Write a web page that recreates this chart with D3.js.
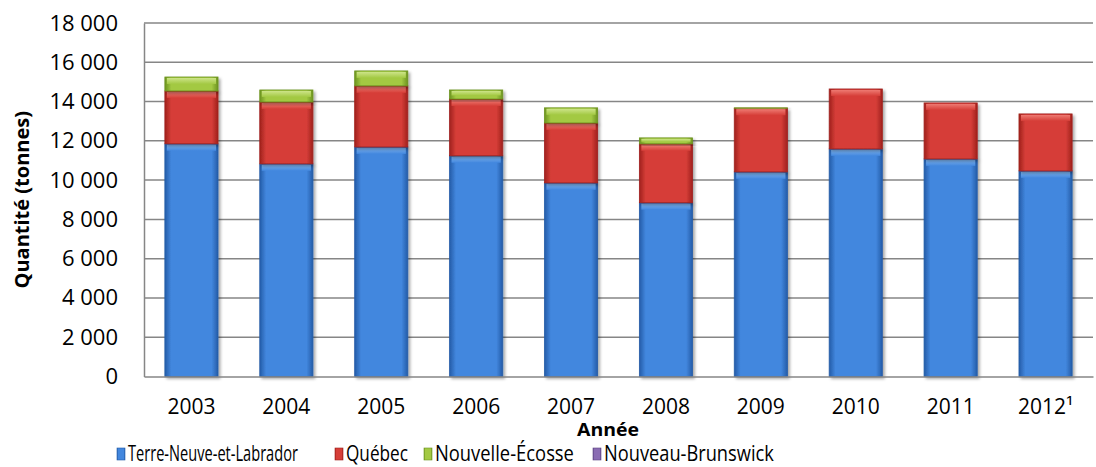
<!DOCTYPE html>
<html>
<head>
<meta charset="utf-8">
<script src="https://cdn.jsdelivr.net/npm/d3@7"></script>
<style>
  body { margin: 0; background: #fff; }
  svg { display: block; font-family: "Open Sans", sans-serif; }
</style>
</head>
<body>
<svg width="1096" height="467"></svg>
<script>
const years = ["2003", "2004", "2005", "2006", "2007", "2008", "2009", "2010", "2011", "2012¹"];
const terreNeuve = [11850, 10830, 11690, 11240, 9860, 8850, 10420, 11590, 11080, 10470];
const quebec = [2690, 3150, 3110, 2890, 3050, 3000, 3240, 3050, 2850, 2900];
const nouvelleEcosse = [710, 610, 760, 460, 770, 300, 20, 0, 0, 0];
const nouveauBrunswick = [0, 0, 0, 0, 0, 0, 0, 0, 0, 0];
const seriesNames = ["Terre-Neuve-et-Labrador", "Québec", "Nouvelle-Écosse", "Nouveau-Brunswick"];
const yTicks = [0, 2000, 4000, 6000, 8000, 10000, 12000, 14000, 16000, 18000];

const colors = [
  { mid: "#4287de", edge: "#245ca8", top: "#7fb6f2" },
  { mid: "#d63e38", edge: "#a0211d", top: "#ee7a72" },
  { mid: "#a3c943", edge: "#6c931f", top: "#cde488" },
  { mid: "#8a6cb3", edge: "#5c4383", top: "#b6a0d4" }
];

const rows = years.map((yr, i) => ({
  year: yr,
  s0: terreNeuve[i], s1: quebec[i], s2: nouvelleEcosse[i], s3: nouveauBrunswick[i]
}));
const stack = d3.stack().keys(["s0", "s1", "s2", "s3"])(rows);

const svg = d3.select("svg");
const mLeft = 144, mRight = 1093, mTop = 23, mBottom = 376.5;

const x = d3.scaleBand().domain(years).range([mLeft, mRight]).paddingInner(0.44).paddingOuter(0.22);
const y = d3.scaleLinear().domain([0, 18000]).range([mBottom, mTop]);

const defs = svg.append("defs");
colors.forEach((c, i) => {
  const g = defs.append("linearGradient").attr("id", "g" + i).attr("x1", 0).attr("x2", 1).attr("y1", 0).attr("y2", 0);
  g.append("stop").attr("offset", "0%").attr("stop-color", c.edge);
  g.append("stop").attr("offset", "12%").attr("stop-color", c.mid);
  g.append("stop").attr("offset", "88%").attr("stop-color", c.mid);
  g.append("stop").attr("offset", "100%").attr("stop-color", c.edge);
  const t = defs.append("linearGradient").attr("id", "t" + i).attr("x1", 0).attr("x2", 0).attr("y1", 0).attr("y2", 1);
  t.append("stop").attr("offset", "0%").attr("stop-color", c.top);
  t.append("stop").attr("offset", "100%").attr("stop-color", c.mid);
});
const shadow = defs.append("filter").attr("id", "sh").attr("x", "-20%").attr("y", "-20%").attr("width", "150%").attr("height", "150%");
shadow.append("feDropShadow").attr("dx", 2).attr("dy", 2).attr("stdDeviation", 1.5).attr("flood-color", "#000").attr("flood-opacity", 0.35);

// gridlines
svg.append("g")
  .selectAll("line")
  .data(yTicks.slice(1))
  .join("line")
  .attr("x1", mLeft).attr("x2", mRight)
  .attr("y1", d => y(d)).attr("y2", d => y(d))
  .attr("stroke", "#868686").attr("stroke-width", 1.5);

// y axis
const yAxis = svg.append("g")
  .attr("transform", `translate(${mLeft},0)`)
  .call(d3.axisLeft(y).tickValues(yTicks).tickSize(0).tickPadding(26)
    .tickFormat(d => d3.format(",")(d).replace(",", " ")));
yAxis.select(".domain").attr("stroke", "#868686").attr("stroke-width", 1.5);
yAxis.selectAll("text").attr("fill", "#000")
  .attr("font-family", "'Open Sans', sans-serif").attr("font-size", 22);

// bars
const layers = svg.append("g").selectAll("g")
  .data(stack)
  .join("g");

layers.each(function (layer, li) {
  const g = d3.select(this);
  const segs = layer.filter(d => d[1] - d[0] > 0);
  g.selectAll("rect.body")
    .data(segs)
    .join("rect")
    .attr("class", "body")
    .attr("x", d => x(d.data.year))
    .attr("y", d => y(d[1]))
    .attr("width", x.bandwidth())
    .attr("height", d => y(d[0]) - y(d[1]))
    .attr("fill", `url(#g${li})`)
    .attr("stroke", colors[li].edge)
    .attr("stroke-width", 0.8)
    .attr("filter", "url(#sh)");
  g.selectAll("rect.cap")
    .data(segs)
    .join("rect")
    .attr("class", "cap")
    .attr("x", d => x(d.data.year) + 2)
    .attr("y", d => y(d[1]) + 1)
    .attr("width", x.bandwidth() - 4)
    .attr("height", d => Math.min(6, (y(d[0]) - y(d[1])) / 2))
    .attr("fill", `url(#t${li})`);
});

// x axis
const xAxis = svg.append("g")
  .attr("transform", `translate(0,${mBottom})`)
  .call(d3.axisBottom(x).tickSize(0).tickPadding(23));
xAxis.select(".domain").attr("stroke", "#868686").attr("stroke-width", 1.5);
xAxis.selectAll("text").attr("fill", "#000")
  .attr("font-family", "'Open Sans', sans-serif").attr("font-size", 21);

// axis titles
svg.append("text")
  .attr("transform", "rotate(-90)")
  .attr("x", -(mTop + mBottom) / 2)
  .attr("y", 29)
  .attr("text-anchor", "middle")
  .attr("font-weight", "bold")
  .attr("font-size", 20)
  .text("Quantité (tonnes)");

svg.append("text")
  .attr("x", 608)
  .attr("y", 436)
  .attr("text-anchor", "middle")
  .attr("font-weight", "bold")
  .attr("font-size", 18)
  .attr("textLength", 62)
  .attr("lengthAdjust", "spacingAndGlyphs")
  .text("Année");

// legend (text condensed horizontally like the original)
const legendX = [117, 335, 424, 593];
const legendW = [170, 62, 139, 170];
const legend = svg.append("g").attr("transform", "translate(0,461)");
const items = legend.selectAll("g")
  .data(seriesNames)
  .join("g")
  .attr("transform", (d, i) => `translate(${legendX[i]},0)`);
items.append("rect")
  .attr("x", 0).attr("y", -13)
  .attr("width", 8).attr("height", 12)
  .attr("fill", (d, i) => `url(#g${i})`)
  .attr("stroke", (d, i) => colors[i].edge)
  .attr("stroke-width", 0.6);
items.append("text")
  .attr("font-size", 21)
  .text(d => d)
  .attr("transform", function (d, i) {
    const k = legendW[i] / this.getComputedTextLength();
    return `translate(11,0) scale(${k},1)`;
  });
</script>
</body>
</html>
